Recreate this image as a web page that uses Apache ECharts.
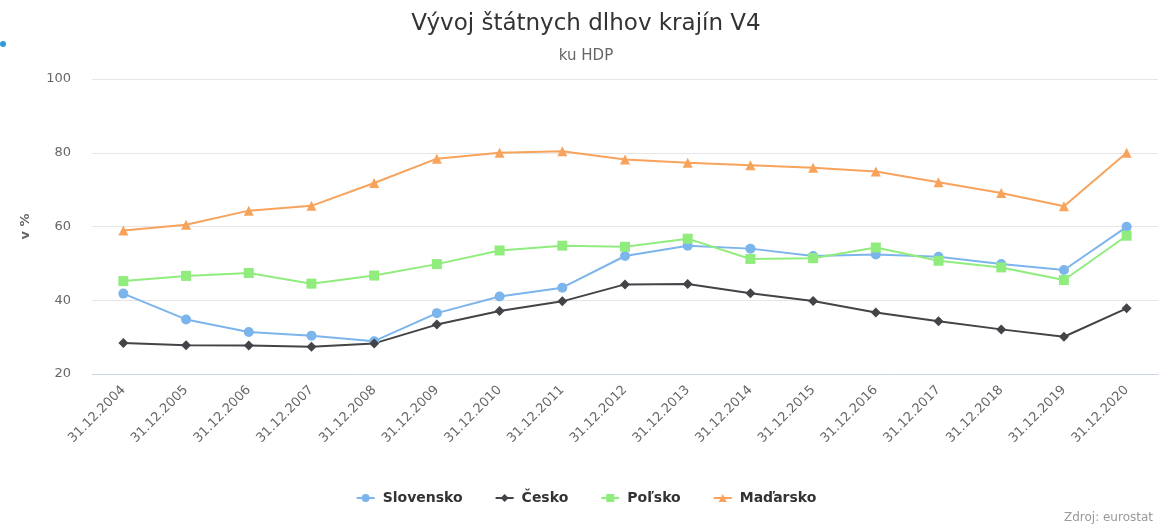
<!DOCTYPE html>
<html>
<head>
<meta charset="utf-8">
<script src="https://cdn.jsdelivr.net/npm/echarts@6/dist/echarts.min.js"></script>
<style>
  html, body { margin: 0; padding: 0; background: #fff; }
  #chart { width: 1172px; height: 532px; }
</style>
</head>
<body>
<div id="chart"></div>
<script>
const categories = [
  "31.12.2004", "31.12.2005", "31.12.2006", "31.12.2007", "31.12.2008",
  "31.12.2009", "31.12.2010", "31.12.2011", "31.12.2012", "31.12.2013",
  "31.12.2014", "31.12.2015", "31.12.2016", "31.12.2017", "31.12.2018",
  "31.12.2019", "31.12.2020"
];
const slovensko = [41.8, 34.8, 31.4, 30.4, 28.9, 36.5, 41.0, 43.4, 52.0, 54.8, 54.0, 52.0, 52.4, 51.8, 49.8, 48.2, 59.9];
const cesko = [28.4, 27.8, 27.7, 27.4, 28.3, 33.4, 37.1, 39.7, 44.3, 44.4, 41.9, 39.8, 36.7, 34.3, 32.1, 30.1, 37.8];
const polsko = [45.2, 46.6, 47.4, 44.5, 46.7, 49.8, 53.5, 54.8, 54.5, 56.7, 51.2, 51.4, 54.3, 50.7, 48.9, 45.5, 57.5];
const madarsko = [58.9, 60.5, 64.3, 65.6, 71.8, 78.4, 80.0, 80.4, 78.2, 77.3, 76.6, 75.9, 74.9, 72.0, 69.1, 65.5, 80.0];

const fontFamily = '"DejaVu Sans", Verdana, sans-serif';

function lineSeries(name, data, color, symbol) {
  return {
    name: name,
    type: "line",
    data: data,
    symbol: symbol,
    symbolSize: 10,
    showSymbol: true,
    color: color,
    lineStyle: { width: 2, color: color },
    itemStyle: { color: color },
  };
}

const chart = echarts.init(document.getElementById("chart"));
chart.setOption({
  animation: false,
  backgroundColor: "#fff",
  textStyle: { fontFamily: fontFamily },
  title: [
    {
      text: "Vývoj štátnych dlhov krajín V4",
      subtext: "ku HDP",
      left: "center",
      top: 8,
      itemGap: 13,
      textStyle: { fontSize: 23, fontWeight: "normal", color: "#333" },
      subtextStyle: { fontSize: 15, color: "#666" },
    },
    {
      text: "Zdroj: eurostat",
      right: 14,
      bottom: 3,
      textStyle: { fontSize: 12, fontWeight: "normal", color: "#999" },
    },
  ],
  graphic: [
    {
      type: "circle",
      shape: { cx: 3, cy: 44, r: 3 },
      style: { fill: "#2f9bd8" },
    },
  ],
  legend: {
    bottom: 22,
    left: "center",
    itemGap: 32,
    itemWidth: 18,
    itemHeight: 10,
    textStyle: { fontSize: 14, fontWeight: "bold", color: "#333", padding: [0, 0, 0, 3] },
    data: ["Slovensko", "Česko", "Poľsko", "Maďarsko"],
  },
  grid: {
    left: 92,
    right: 14,
    top: 79,
    bottom: 158,
  },
  xAxis: {
    type: "category",
    data: categories,
    boundaryGap: true,
    axisLine: { lineStyle: { color: "#ccd6eb" } },
    axisTick: { show: false },
    axisLabel: {
      rotate: 45,
      margin: 14,
      color: "#666",
      fontSize: 13,
      interval: 0,
    },
  },
  yAxis: {
    type: "value",
    min: 20,
    max: 100,
    interval: 20,
    name: "v %",
    nameLocation: "middle",
    nameGap: 60,
    nameRotate: 90,
    nameTextStyle: { color: "#666", fontSize: 13, fontWeight: "bold" },
    axisLine: { show: false },
    axisTick: { show: false },
    axisLabel: { color: "#666", fontSize: 13, margin: 21 },
    splitLine: { lineStyle: { color: "#e6e6e6" } },
  },
  series: [
    lineSeries("Slovensko", slovensko, "#7cb5ec", "circle"),
    lineSeries("Česko", cesko, "#434348", "diamond"),
    lineSeries("Poľsko", polsko, "#90ed7d", "rect"),
    lineSeries("Maďarsko", madarsko, "#f7a35c", "triangle"),
  ],
});
</script>
</body>
</html>
